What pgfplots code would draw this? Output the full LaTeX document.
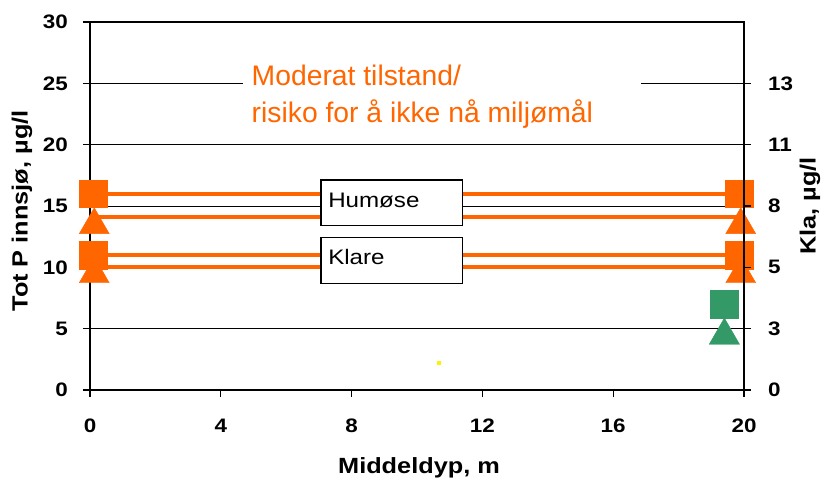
\documentclass[border=0pt]{standalone}
\usepackage{fontspec}
\setmainfont{Liberation Sans}[FakeStretch=1.15]
\newfontfamily\plainfont{Liberation Sans}
\usepackage{pgfplots}
\pgfplotsset{compat=1.18}
\definecolor{orng}{HTML}{FF6600}
\definecolor{grn}{HTML}{339966}
\begin{document}
\begin{tikzpicture}[x=1pt,y=1pt]
\path[use as bounding box] (-90,-89) rectangle (735,390);
\begin{axis}[
  at={(0,0)}, anchor=south west,
  scale only axis, width=654pt, height=368pt,
  xmin=0, xmax=20, ymin=0, ymax=30,
  xtick={0,4,...,20}, ytick={0,5,...,30},
  xtick pos=bottom, ytick pos=left,
  tick align=outside,
  major tick length=7pt,
  tick style={black, line width=1.2pt},
  axis line style={black, line width=1.3pt},
  ymajorgrids, grid style={black, line width=0.9pt},
  /pgf/number format/assume math mode=true,
  yticklabel style={font=\fontsize{19.5}{19.5}\selectfont\bfseries, inner sep=0pt, anchor=east, xshift=-15pt},
  xticklabel style={font=\fontsize{19.5}{19.5}\selectfont\bfseries, inner sep=0pt, anchor=north, yshift=-22pt},
  clip=false,
]
\fill[white] (axis cs:4.68,20.9) rectangle (axis cs:16.85,27.5);
\addplot[orng, line width=3.7pt, no marks] coordinates {(0.1,16) (19.85,16)};
\addplot[orng, line width=3.7pt, no marks] coordinates {(0.1,14.1) (19.85,14.1)};
\addplot[orng, line width=3.7pt, no marks] coordinates {(0.1,11) (19.85,11)};
\addplot[orng, line width=3.7pt, no marks] coordinates {(0.1,10) (19.85,10)};
\addplot[only marks, mark=triangle*, mark size=17.3pt, color=orng, mark options={yshift=-4.3pt}] coordinates {(0.13,13.8) (19.9,13.8) (0.13,9.8) (19.9,9.8)};
\addplot[only marks, mark=square*, mark size=13.8pt, color=orng] coordinates {(0.1,16) (19.85,16) (0.1,11) (19.85,11)};
\addplot[only marks, mark=square*, mark size=13.8pt, color=grn] coordinates {(19.4,7)};
\addplot[only marks, mark=triangle*, mark size=17.5pt, color=grn, mark options={yshift=-4.4pt}] coordinates {(19.4,4.8)};
\addplot[only marks, mark=square*, mark size=1.5pt, color=yellow] coordinates {(10.67,2.2)};
\draw[black, line width=1.3pt, fill=white] (axis cs:7.06,13.39) rectangle (axis cs:11.39,17.11);
\draw[black, line width=1.3pt, fill=white] (axis cs:7.06,8.70) rectangle (axis cs:11.39,12.41);
\node[anchor=base west, inner sep=0pt, font=\fontsize{21}{21}\selectfont] at (axis cs:7.28,14.89) {Humøse};
\node[anchor=base west, inner sep=0pt, font=\fontsize{21}{21}\selectfont] at (axis cs:7.28,10.24) {Klare};
\node[anchor=base west, inner sep=0pt, text=orng, font=\plainfont\fontsize{28.3}{28.3}\selectfont] at (axis cs:4.94,24.86) {Moderat tilstand/};
\node[anchor=base west, inner sep=0pt, text=orng, font=\plainfont\fontsize{28.3}{28.3}\selectfont] at (axis cs:4.94,21.78) {risiko for å ikke nå miljømål};
\end{axis}
\begin{axis}[
  at={(0,0)}, anchor=south west,
  scale only axis, width=654pt, height=368pt,
  xmin=0, xmax=20, ymin=0, ymax=30,
  hide x axis,
  axis y line*=right,
  ytick={0,5,10,15,20,25}, yticklabels={0,3,5,8,11,13},
  tick align=outside,
  major tick length=7pt,
  tick style={black, line width=1.2pt},
  axis line style={black, line width=1.3pt},
  yticklabel style={font=\fontsize{19.5}{19.5}\selectfont\bfseries, inner sep=0pt, anchor=west, xshift=17pt},
]
\end{axis}
\node[rotate=90, font=\fontsize{22}{22}\selectfont\bfseries] at (-68,179) {Tot P innsjø, µg/l};
\node[rotate=90, font=\fontsize{22}{22}\selectfont\bfseries] at (720,184) {Kla, µg/l};
\node[anchor=base, inner sep=0pt, font=\fontsize{22}{22}\selectfont\bfseries] at (329,-83.5) {Middeldyp, m};
\end{tikzpicture}
\end{document}
